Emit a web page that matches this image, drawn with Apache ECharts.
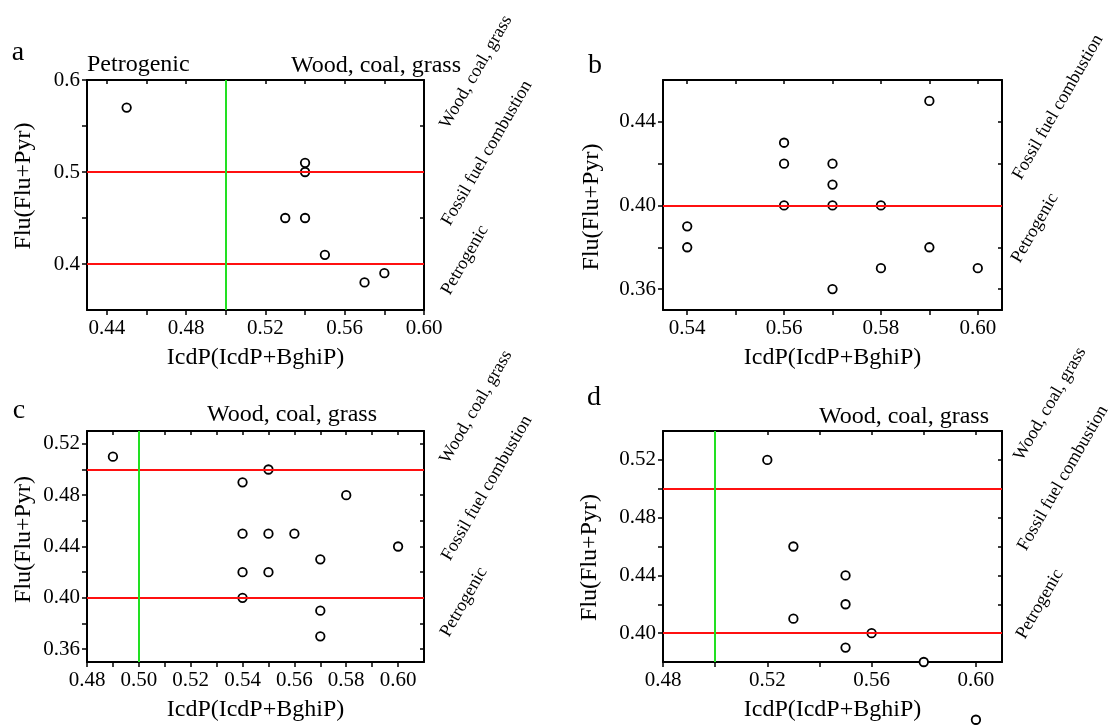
<!DOCTYPE html>
<html>
<head>
<meta charset="utf-8">
<script src="https://cdn.jsdelivr.net/npm/echarts@6/dist/echarts.min.js"></script>
<style>
  html, body { margin: 0; background: #fff; }
  #chart { width: 1110px; height: 725px; }
</style>
</head>
<body>
<div id="chart"></div>
<script>
// panel a
var aIcdP = [0.45, 0.54, 0.54, 0.53, 0.54, 0.55, 0.57, 0.58];
var aFlu = [0.57, 0.51, 0.50, 0.45, 0.45, 0.41, 0.38, 0.39];
var aXRange = [0.43, 0.60], aYRange = [0.35, 0.60];
var aXTicks = [0.44, 0.46, 0.48, 0.50, 0.52, 0.54, 0.56, 0.58, 0.60];
var aXLabels = [0.44, 0.48, 0.52, 0.56, 0.60];
var aYTicks = [0.40, 0.45, 0.50, 0.55, 0.60];
var aYLabels = [0.4, 0.5, 0.6];
var aRed = [0.40, 0.50], aGreen = [0.501];

// panel b
var bIcdP = [0.54, 0.54, 0.56, 0.56, 0.56, 0.57, 0.57, 0.57, 0.57, 0.58, 0.58, 0.59, 0.59, 0.60];
var bFlu = [0.39, 0.38, 0.43, 0.42, 0.40, 0.42, 0.41, 0.40, 0.36, 0.40, 0.37, 0.45, 0.38, 0.37];
var bXRange = [0.535, 0.605], bYRange = [0.35, 0.46];
var bXTicks = [0.54, 0.55, 0.56, 0.57, 0.58, 0.59, 0.60];
var bXLabels = [0.54, 0.56, 0.58, 0.60];
var bYTicks = [0.36, 0.38, 0.40, 0.42, 0.44];
var bYLabels = [0.36, 0.40, 0.44];
var bRed = [0.40], bGreen = [];

// panel c
var cIcdP = [0.49, 0.55, 0.54, 0.58, 0.54, 0.55, 0.56, 0.60, 0.57, 0.54, 0.55, 0.54, 0.57, 0.57];
var cFlu = [0.51, 0.50, 0.49, 0.48, 0.45, 0.45, 0.45, 0.44, 0.43, 0.42, 0.42, 0.40, 0.39, 0.37];
var cXRange = [0.48, 0.61], cYRange = [0.35, 0.53];
var cXTicks = [0.48, 0.49, 0.50, 0.51, 0.52, 0.53, 0.54, 0.55, 0.56, 0.57, 0.58, 0.59, 0.60];
var cXLabels = [0.48, 0.50, 0.52, 0.54, 0.56, 0.58, 0.60];
var cYTicks = [0.36, 0.38, 0.40, 0.42, 0.44, 0.46, 0.48, 0.50, 0.52];
var cYLabels = [0.36, 0.40, 0.44, 0.48, 0.52];
var cRed = [0.40, 0.50], cGreen = [0.50];

// panel d
var dIcdP = [0.52, 0.53, 0.55, 0.55, 0.53, 0.56, 0.55, 0.58, 0.60];
var dFlu = [0.52, 0.46, 0.44, 0.42, 0.41, 0.40, 0.39, 0.38, 0.34];
var dXRange = [0.48, 0.61], dYRange = [0.38, 0.54];
var dXTicks = [0.48, 0.50, 0.52, 0.54, 0.56, 0.58, 0.60];
var dXLabels = [0.48, 0.52, 0.56, 0.60];
var dYTicks = [0.40, 0.42, 0.44, 0.46, 0.48, 0.50, 0.52];
var dYLabels = [0.40, 0.44, 0.48, 0.52];
var dRed = [0.40, 0.50], dGreen = [0.501];

var FONT = '"Liberation Serif", "Times New Roman", serif';

function pairs(xs, ys) {
  return xs.map(function (x, i) { return [x, ys[i]]; });
}

var panels = [
  { grid: { left: 87, top: 80, width: 337, height: 230 }, xs: aIcdP, ys: aFlu, xr: aXRange, yr: aYRange,
    xt: aXTicks, xl: aXLabels, yt: aYTicks, yl: aYLabels, ydec: 1, red: aRed, green: aGreen, yGap: 51, yPad: [0, 0, 0, 18] },
  { grid: { left: 663, top: 80, width: 339, height: 230 }, xs: bIcdP, ys: bFlu, xr: bXRange, yr: bYRange,
    xt: bXTicks, xl: bXLabels, yt: bYTicks, yl: bYLabels, ydec: 2, red: bRed, green: bGreen, yGap: 59, yPad: [0, 24, 0, 0] },
  { grid: { left: 87, top: 431, width: 337, height: 231 }, xs: cIcdP, ys: cFlu, xr: cXRange, yr: cYRange,
    xt: cXTicks, xl: cXLabels, yt: cYTicks, yl: cYLabels, ydec: 2, red: cRed, green: cGreen, yGap: 51, yPad: [0, 0, 0, 14] },
  { grid: { left: 663, top: 431, width: 339, height: 231 }, xs: dIcdP, ys: dFlu, xr: dXRange, yr: dYRange,
    xt: dXTicks, xl: dXLabels, yt: dYTicks, yl: dYLabels, ydec: 2, red: dRed, green: dGreen, yGap: 61, yPad: [0, 22, 0, 0] }
];

var grids = [], xAxes = [], yAxes = [], series = [];
var line = { show: true, onZero: false, lineStyle: { color: '#000', width: 2 } };

panels.forEach(function (p, i) {
  grids.push(p.grid);
  // bottom axis with labels, ticks pointing out
  xAxes.push({
    type: 'value', gridIndex: i, min: p.xr[0], max: p.xr[1], position: 'bottom',
    name: 'IcdP(IcdP+BghiP)', nameLocation: 'middle', nameGap: 36,
    nameTextStyle: { fontFamily: FONT, fontSize: 24, color: '#000' },
    axisLine: line, splitLine: { show: false },
    axisTick: { customValues: p.xt, length: 5, lineStyle: { color: '#000', width: 1.5 } },
    axisLabel: { customValues: p.xl, margin: 8, fontFamily: FONT, fontSize: 21, color: '#000',
      formatter: function (v) { return v.toFixed(2); } }
  });
  // top axis, ticks pointing in
  xAxes.push({
    type: 'value', gridIndex: i, min: p.xr[0], max: p.xr[1], position: 'top',
    axisLine: line, splitLine: { show: false }, axisLabel: { show: false },
    axisTick: { customValues: p.xt, inside: true, length: 4, lineStyle: { color: '#000', width: 1.5 } }
  });
  yAxes.push({
    type: 'value', gridIndex: i, min: p.yr[0], max: p.yr[1], position: 'left',
    name: 'Flu(Flu+Pyr)', nameLocation: 'middle', nameGap: p.yGap,
    nameTextStyle: { fontFamily: FONT, fontSize: 24, color: '#000', padding: p.yPad },
    axisLine: line, splitLine: { show: false },
    axisTick: { customValues: p.yt, length: 5, lineStyle: { color: '#000', width: 1.5 } },
    axisLabel: { customValues: p.yl, margin: 7, fontFamily: FONT, fontSize: 21, color: '#000',
      formatter: (function (dec) { return function (v) { return v.toFixed(dec); }; })(p.ydec) }
  });
  yAxes.push({
    type: 'value', gridIndex: i, min: p.yr[0], max: p.yr[1], position: 'right',
    axisLine: line, splitLine: { show: false }, axisLabel: { show: false },
    axisTick: { customValues: p.yt, inside: true, length: 4, lineStyle: { color: '#000', width: 1.5 } }
  });

  var marks = [];
  p.red.forEach(function (v) { marks.push({ yAxis: v, lineStyle: { color: '#ff1010', width: 2 } }); });
  p.green.forEach(function (v) { marks.push({ xAxis: v, lineStyle: { color: '#22e022', width: 2 } }); });

  series.push({
    type: 'scatter', xAxisIndex: i * 2, yAxisIndex: i * 2, data: [], z: 1,
    markLine: { silent: true, symbol: 'none', label: { show: false }, animation: false,
      lineStyle: { type: 'solid' }, data: marks }
  });
  series.push({
    type: 'scatter', xAxisIndex: i * 2, yAxisIndex: i * 2, z: 3, clip: false,
    symbol: 'circle', symbolSize: 8.5,
    itemStyle: { color: '#fff', borderColor: '#000', borderWidth: 1.8, opacity: 1 },
    data: pairs(p.xs, p.ys)
  });
});

function txt(s, x, y, size, rot, align) {
  return {
    type: 'text', x: x, y: y, rotation: rot || 0, silent: true,
    style: { text: s, font: size + 'px ' + FONT, fill: '#000',
      textAlign: align || 'center', textVerticalAlign: 'middle', align: align || 'center', verticalAlign: 'middle' }
  };
}
var R = Math.PI / 3;
var graphics = [
  txt('a', 18, 53, 28), txt('b', 595, 66, 28), txt('c', 19, 411, 28), txt('d', 594, 398, 28),
  txt('Petrogenic', 87, 65, 24, 0, 'left'),
  txt('Wood, coal, grass', 376, 66, 24),
  txt('Wood, coal, grass', 292, 415, 24),
  txt('Wood, coal, grass', 904, 417, 24),
  txt('Wood, coal, grass', 476, 72, 18, R),
  txt('Fossil fuel combustion', 487, 153, 18, R),
  txt('Petrogenic', 465, 260, 18, R),
  txt('Fossil fuel combustion', 1058, 107, 18, R),
  txt('Petrogenic', 1035, 228, 18, R),
  txt('Wood, coal, grass', 476, 407, 18, R),
  txt('Fossil fuel combustion', 487, 488, 18, R),
  txt('Petrogenic', 464, 602, 18, R),
  txt('Wood, coal, grass', 1050, 404, 18, R),
  txt('Fossil fuel combustion', 1063, 478, 18, R),
  txt('Petrogenic', 1040, 604, 18, R)
];

var chart = echarts.init(document.getElementById('chart'));
chart.setOption({
  animation: false,
  backgroundColor: '#fff',
  textStyle: { fontFamily: FONT },
  grid: grids,
  xAxis: xAxes,
  yAxis: yAxes,
  series: series,
  graphic: graphics
});
</script>
</body>
</html>
